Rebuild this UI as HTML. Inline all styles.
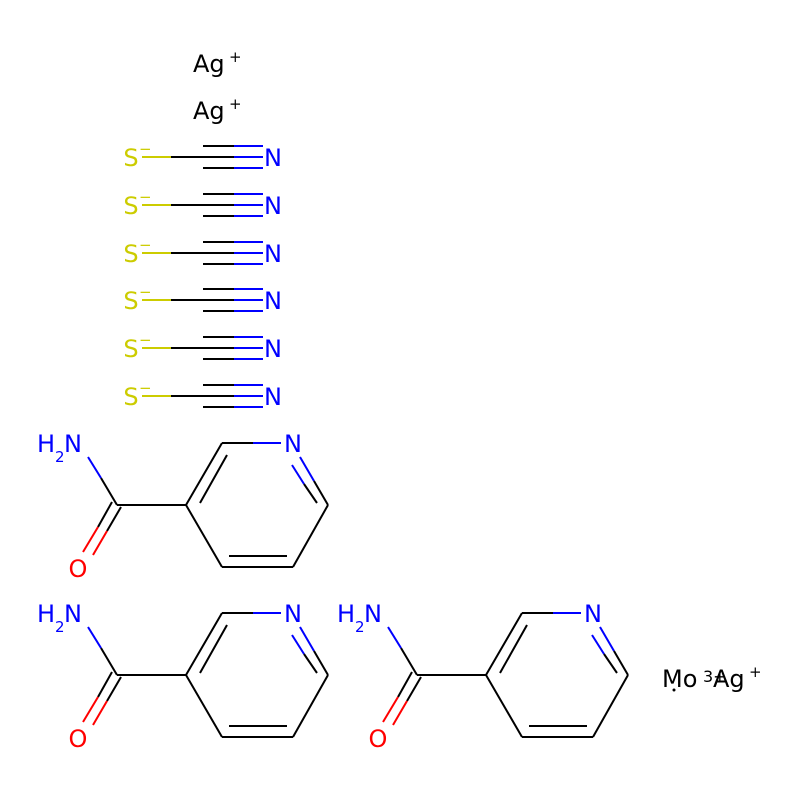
<!DOCTYPE html>
<html><head><style>body{margin:0;background:#fff}svg text{font-family:"DejaVu Sans","Liberation Sans",sans-serif}</style></head>
<body>
<svg width="800" height="800" viewBox="0 0 800 800" xmlns="http://www.w3.org/2000/svg">
<rect width="800" height="800" fill="#fff"/>
<defs>
<g id="sc">
<line x1="142" y1="0" x2="171" y2="0" stroke="#cccc00" stroke-width="2"/>
<line x1="171" y1="0" x2="203" y2="0" stroke="#000" stroke-width="2"/>
<line x1="203" y1="-11" x2="234" y2="-11" stroke="#000" stroke-width="2"/>
<line x1="203" y1="0" x2="234" y2="0" stroke="#000" stroke-width="2"/>
<line x1="203" y1="11" x2="234" y2="11" stroke="#000" stroke-width="2"/>
<line x1="234" y1="-11" x2="263" y2="-11" stroke="#0000ff" stroke-width="2"/>
<line x1="234" y1="0" x2="263" y2="0" stroke="#0000ff" stroke-width="2"/>
<line x1="234" y1="11" x2="263" y2="11" stroke="#0000ff" stroke-width="2"/>
<text x="131" y="9" font-size="24" fill="#cccc00" text-anchor="middle">S</text>
<text x="139" y="-3" font-size="15" fill="#cccc00">−</text>
<text x="273" y="9" font-size="24" fill="#0000ff" text-anchor="middle">N</text>
</g>
<g id="nic" stroke-width="2" fill="none">
<line x1="186" y1="505" x2="222" y2="443" stroke="#000"/>
<line x1="200" y1="503" x2="227" y2="455" stroke="#000"/>
<line x1="222" y1="443" x2="253" y2="443" stroke="#000"/>
<line x1="253" y1="443" x2="281" y2="443" stroke="#0000ff"/>
<line x1="300" y1="457" x2="314" y2="481" stroke="#0000ff"/>
<line x1="314" y1="481" x2="328" y2="505" stroke="#000"/>
<line x1="292" y1="465" x2="304" y2="484" stroke="#0000ff"/>
<line x1="304" y1="484" x2="317" y2="503" stroke="#000"/>
<line x1="328" y1="505" x2="293" y2="567" stroke="#000"/>
<line x1="293" y1="567" x2="222" y2="567" stroke="#000"/>
<line x1="229" y1="556" x2="287" y2="556" stroke="#000"/>
<line x1="222" y1="567" x2="186" y2="505" stroke="#000"/>
<line x1="186" y1="505" x2="117" y2="505" stroke="#000"/>
<line x1="117" y1="505" x2="101" y2="478" stroke="#000"/>
<line x1="101" y1="478" x2="88" y2="457" stroke="#0000ff"/>
<line x1="112" y1="502" x2="98" y2="527" stroke="#000"/>
<line x1="98" y1="527" x2="83" y2="552" stroke="#ff0000"/>
<line x1="121" y1="507" x2="107" y2="531" stroke="#000"/>
<line x1="107" y1="531" x2="93" y2="555" stroke="#ff0000"/>
<text x="293" y="452" font-size="24" fill="#0000ff" stroke="none" text-anchor="middle">N</text>
<text x="78" y="577" font-size="24" fill="#ff0000" stroke="none" text-anchor="middle">O</text>
<text x="37" y="452" font-size="24" fill="#0000ff" stroke="none">H</text>
<text x="55" y="462" font-size="15" fill="#0000ff" stroke="none">2</text>
<text x="64" y="452" font-size="24" fill="#0000ff" stroke="none">N</text>
</g>
</defs>
<text x="193" y="72" font-size="24">Ag</text><text x="229" y="62" font-size="15">+</text>
<text x="193" y="119" font-size="24">Ag</text><text x="229" y="109" font-size="15">+</text>
<use href="#sc" y="157"/>
<use href="#sc" y="205"/>
<use href="#sc" y="253"/>
<use href="#sc" y="300"/>
<use href="#sc" y="348"/>
<use href="#sc" y="396"/>
<use href="#nic"/>
<use href="#nic" y="170"/>
<use href="#nic" x="300" y="170"/>
<text x="662" y="687" font-size="24">Mo</text>
<circle cx="674" cy="690" r="1.5" fill="#000"/>
<text x="703" y="682" font-size="16">3+</text>
<text x="713" y="687" font-size="24">Ag</text>
<text x="749" y="677" font-size="15">+</text>
</svg>
</body></html>
